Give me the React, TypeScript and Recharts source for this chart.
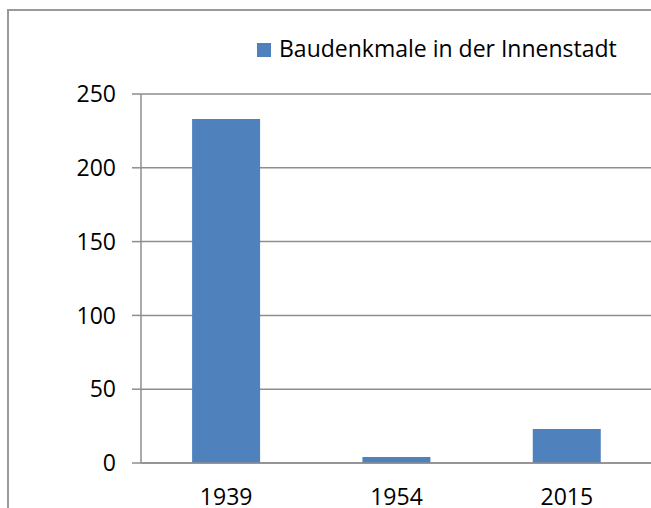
import { BarChart, Bar, XAxis, YAxis, CartesianGrid, Legend } from 'recharts'

const years = ['1939', '1954', '2015']
const monuments = [233, 4, 23]
const yTicks = [0, 50, 100, 150, 200, 250]
const edgeTicks = [0, 1, 2, 3]
const seriesName = 'Baudenkmale in der Innenstadt'

const chartData = years.map((year, i) => ({ year, value: monuments[i] }))

const FONT = '"Open Sans", sans-serif'
const GRID = '#8e8e8e'
const BAR = '#4F81BD'

function LegendBox({ payload }: any) {
  return (
    <div style={{ display: 'flex', alignItems: 'flex-start', fontFamily: FONT, fontSize: 23, lineHeight: '23px', color: '#000', whiteSpace: 'nowrap' }}>
      {(payload || []).map((entry: any) => (
        <div key={entry.value} style={{ display: 'flex', alignItems: 'flex-start' }}>
          <span style={{ display: 'inline-block', width: 14, height: 14, background: BAR, marginTop: 6, marginRight: 8 }} />
          <span>{entry.value}</span>
        </div>
      ))}
    </div>
  )
}

export default function App() {
  return (
    <div style={{ position: 'fixed', left: 0, top: 0, width: 651, height: 508, overflow: 'hidden', background: '#fff' }}>
      <style>{'html, body { margin: 0; overflow: hidden; }'}</style>
      <div
        style={{
          position: 'absolute',
          left: 7,
          top: 9,
          width: 700,
          height: 600,
          borderLeft: '2px solid #9a9a9a',
          borderTop: '2px solid #9a9a9a',
        }}
      />
      <BarChart
        width={652}
        height={508}
        data={chartData}
        margin={{ top: 94, right: 0, bottom: 0, left: 0 }}
        barCategoryGap="30%"
        style={{ position: 'absolute', left: 0, top: 0 }}
      >
        <CartesianGrid vertical={false} stroke={GRID} strokeWidth={1.5} x={141} width={520} />
        <XAxis
          xAxisId="edge"
          type="number"
          domain={[0, 3]}
          ticks={edgeTicks}
          tick={false}
          axisLine={false}
          tickLine={{ stroke: GRID, strokeWidth: 1.5 }}
          tickSize={9}
          height={0}
        />
        <XAxis
          dataKey="year"
          height={45}
          tickLine={false}
          tickSize={0}
          tickMargin={26}
          axisLine={{ stroke: GRID, strokeWidth: 1.5 }}
          tick={{ fill: '#000', fontSize: 23, fontFamily: FONT }}
        />
        <YAxis
          width={141}
          domain={[0, 250]}
          ticks={yTicks}
          tickSize={9}
          tickMargin={16}
          axisLine={{ stroke: GRID, strokeWidth: 1.5 }}
          tickLine={{ stroke: GRID, strokeWidth: 1.5 }}
          tick={{ fill: '#000', fontSize: 23, fontFamily: FONT }}
        />
        <Legend
          layout="vertical"
          align="center"
          verticalAlign="middle"
          content={<LegendBox />}
          wrapperStyle={{ top: 37, left: 257, width: 'auto' }}
        />
        <Bar dataKey="value" xAxisId={0} name={seriesName} fill={BAR} isAnimationActive={false} />
      </BarChart>
    </div>
  )
}
